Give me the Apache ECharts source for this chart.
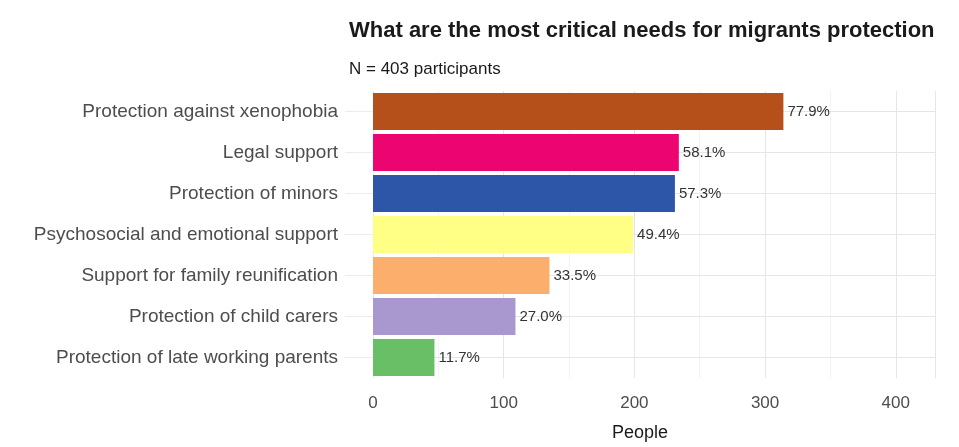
<!DOCTYPE html>
<html>
<head>
<meta charset="utf-8">
<script src="https://cdn.jsdelivr.net/npm/echarts@6/dist/echarts.min.js"></script>
<style>
html,body{margin:0;padding:0;background:#fff;}
#chart{width:959px;height:447px;}
</style>
</head>
<body>
<div id="chart"></div>
<script>
var categories = [
  "Protection of late working parents",
  "Protection of child carers",
  "Support for family reunification",
  "Psychosocial and emotional support",
  "Protection of minors",
  "Legal support",
  "Protection against xenophobia"
];
var people = [47, 109, 135, 199, 231, 234, 314];
var percentLabels = ["11.7%", "27.0%", "33.5%", "49.4%", "57.3%", "58.1%", "77.9%"];
var barColors = ["#69BF66", "#A898CF", "#FCAE6C", "#FFFF85", "#2D55A8", "#EC0470", "#B5501A"];
var xTicks = [0, 100, 200, 300, 400];

var chart = echarts.init(document.getElementById('chart'));
var font = "'Liberation Sans', Arial, sans-serif";

chart.setOption({
  animation: false,
  backgroundColor: '#ffffff',
  title: [{
    text: 'What are the most critical needs for migrants protection',
    left: 344, top: 15,
    textStyle: {fontFamily: font, fontSize: 22, fontWeight: 'bold', color: '#1a1a1a'}
  }, {
    text: 'N = 403 participants',
    left: 344, top: 56,
    textStyle: {fontFamily: font, fontSize: 17, fontWeight: 'normal', color: '#1a1a1a'}
  }],
  grid: {left: 373, right: 24, top: 91, bottom: 60, containLabel: false},
  xAxis: {
    type: 'value', min: 0, max: 430, interval: 100,
    name: 'People', nameLocation: 'middle', nameGap: 46,
    nameTextStyle: {fontFamily: font, fontSize: 18, color: '#1a1a1a', padding: [0, 28, 0, 0]},
    axisLine: {show: false}, axisTick: {show: false},
    axisLabel: {fontFamily: font, fontSize: 17, color: '#4d4d4d', margin: 17,
      formatter: function (v) { return xTicks.indexOf(v) >= 0 ? String(v) : ''; }},
    splitLine: {show: true, lineStyle: {color: '#e6e6e6', width: 1}},
    minorTick: {show: false, splitNumber: 2},
    minorSplitLine: {show: true, lineStyle: {color: '#f3f3f3', width: 1}}
  },
  yAxis: {
    type: 'category', data: categories,
    axisLine: {show: false},
    axisTick: {show: true, alignWithLabel: true, length: 28, lineStyle: {color: '#ececec'}},
    axisLabel: {fontFamily: font, fontSize: 19, color: '#4d4d4d', margin: 35},
    splitLine: {show: false}
  },
  series: [{
    type: 'scatter', data: [], z: 0, silent: true,
    markLine: {
      silent: true, symbol: 'none', label: {show: false}, z: 0,
      lineStyle: {color: '#e6e6e6', width: 1, type: 'solid'},
      data: categories.map(function (c) { return {yAxis: c}; })
    }
  }, {
    type: 'bar', z: 5,
    barCategoryGap: '10%',
    data: people.map(function (v, i) {
      return {value: v, itemStyle: {color: barColors[i]}};
    }),
    label: {
      show: true, position: 'right', distance: 4,
      fontFamily: font, fontSize: 15, color: '#333333',
      formatter: function (p) { return percentLabels[p.dataIndex]; }
    }
  }]
});
</script>
</body>
</html>
